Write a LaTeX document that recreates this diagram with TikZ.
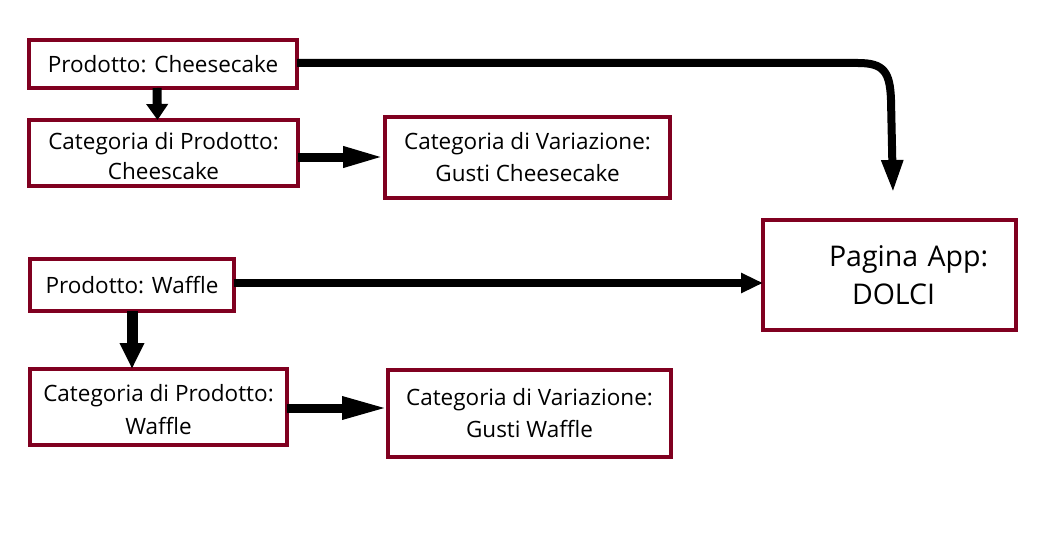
\documentclass[tikz,border=0pt]{standalone}
\usepackage{fontspec}
\setmainfont{Open Sans}
\usetikzlibrary{arrows.meta}
\definecolor{boxred}{RGB}{128,0,32}
\tikzset{
  box/.style={draw=boxred, line width=4pt, fill=white, inner sep=0pt, outer sep=0pt,
    align=center, font=\fontsize{22.5}{30.5}\selectfont},
  arr/.style={draw=black, line width=9pt},
}
\begin{document}
\begin{tikzpicture}[x=1pt,y=-1pt]
\useasboundingbox (0,0) rectangle (1050,551);
\node[box, minimum width=268pt, minimum height=48pt] (b1) at (163,64) {Prodotto: Cheesecake};
\node[box, minimum width=269pt, minimum height=66pt] (b2) at (163.5,153) {\rule{0pt}{23pt}Categoria di Prodotto:\\Cheescake};
\node[box, minimum width=285pt, minimum height=81pt, font=\fontsize{22.5}{32}\selectfont] (b3) at (527.5,157.5) {Categoria di Variazione:\\Gusti Cheesecake};
\node[box, minimum width=204pt, minimum height=52pt] (b4) at (132,285) {Prodotto: Waffle};
\node[box, minimum width=257pt, minimum height=76pt, font=\fontsize{22.5}{33}\selectfont] (b5) at (158.5,407) {\rule{0pt}{21.5pt}Categoria di Prodotto:\\Waffle};
\node[box, minimum width=283pt, minimum height=87pt, font=\fontsize{22.5}{32}\selectfont] (b6) at (529.5,413.5) {Categoria di Variazione:\\Gusti Waffle};
\node[box, minimum width=253pt, minimum height=110pt, text width=253pt, align=left,
  font=\fontsize{28.5}{38}\selectfont] (b7) at (889.5,275) {\hspace*{66pt}Pagina App:\\\hspace*{89pt}DOLCI};
\coordinate (c3end) at (893,193);
% arrows
\draw[arr, -{Triangle[length=16pt,width=21pt]}] ([xshift=-6pt]b1.south) -- ([xshift=-6pt]b2.north);
\draw[arr, -{Triangle[length=42pt,width=19pt]}] ([yshift=-4pt]b2.east) -- ([yshift=-4pt]b2.east -| b3.west);
\draw[arr, line width=8pt, -{Triangle[length=33pt,width=20pt]}] ([yshift=1pt]b1.east) -- (858,63) .. controls (884,63) and (890,72) .. (891,100) -- (c3end);
\draw[arr, line width=8pt, -{Triangle[length=22pt,width=19pt]}] ([yshift=2pt]b4.east) -- ([yshift=2pt]b4.east -| b7.west);
\draw[arr, line width=11pt, -{Triangle[length=26pt,width=23pt]}] (b4.south) -- (b4.south |- b5.north);
\draw[arr, -{Triangle[length=46pt,width=21pt]}] ([yshift=-1pt]b5.east) -- ([yshift=-1pt]b5.east -| b6.west);
\end{tikzpicture}
\end{document}
